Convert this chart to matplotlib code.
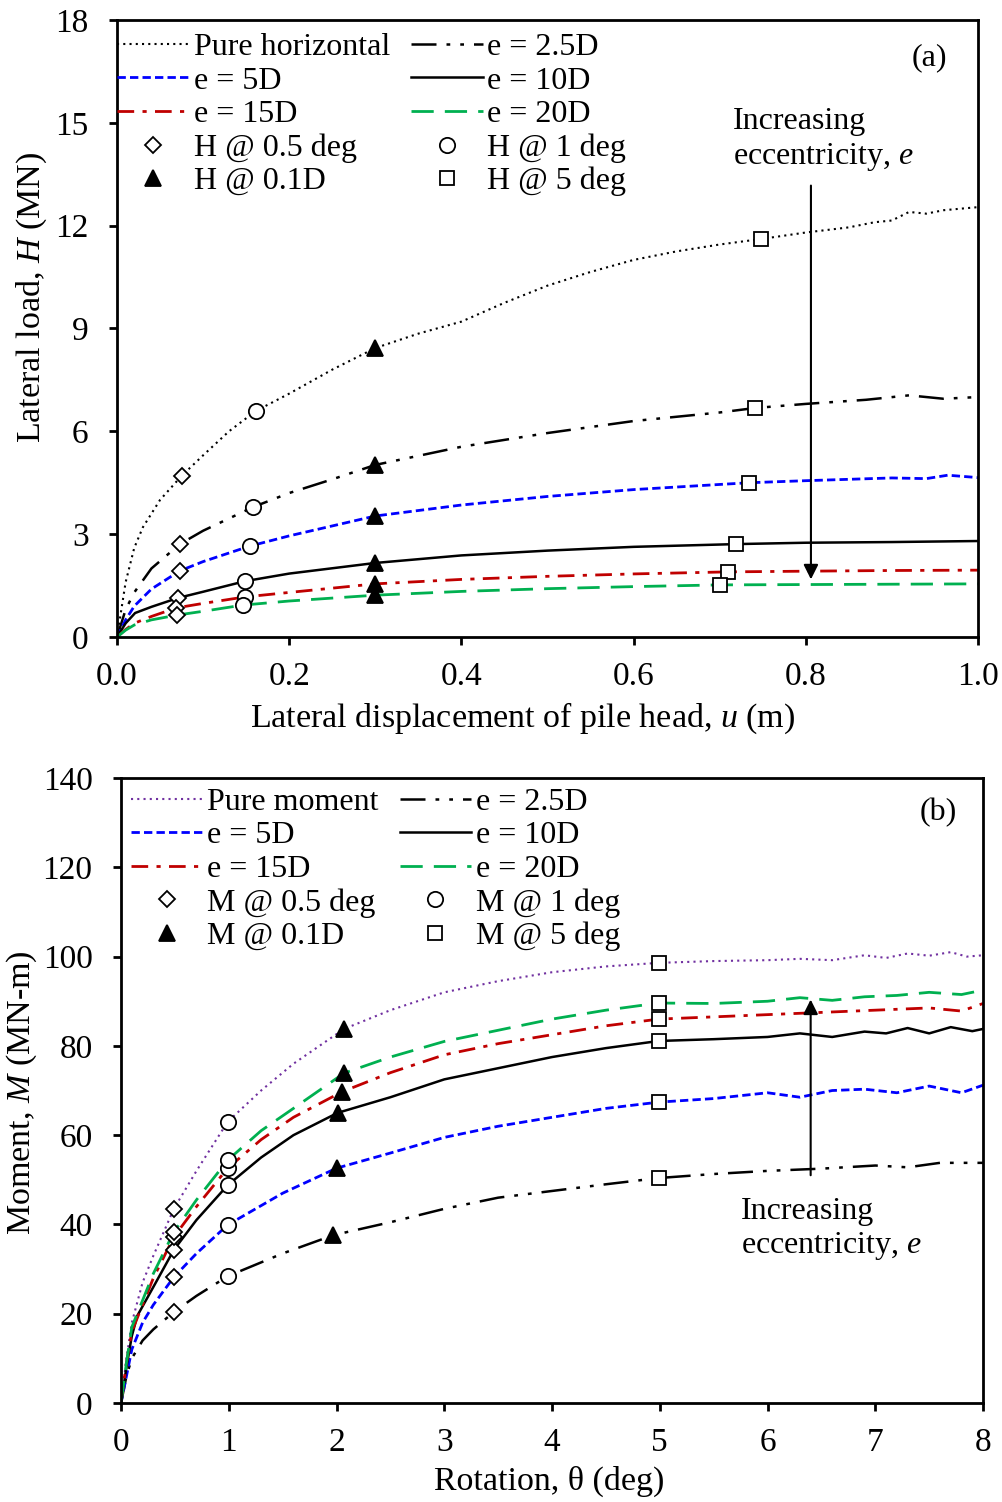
import matplotlib
matplotlib.use("Agg")
import matplotlib.pyplot as plt
from matplotlib.lines import Line2D

plt.rcParams['font.family'] = ['Liberation Serif', 'DejaVu Serif']
plt.rcParams['mathtext.fontset'] = 'custom'
plt.rcParams['mathtext.rm'] = 'Liberation Serif'
plt.rcParams['mathtext.it'] = 'Liberation Serif:italic'
plt.rcParams['font.size'] = 23

# ---------------- (a) lateral load vs displacement ----------------
u_pure = [0, 0.005, 0.01, 0.02, 0.03, 0.05, 0.075, 0.1, 0.13, 0.161, 0.2, 0.25, 0.3, 0.35, 0.4,
          0.45, 0.5, 0.55, 0.6, 0.65, 0.7, 0.748, 0.8, 0.85, 0.88, 0.9, 0.92, 0.94, 0.96, 1.0]
H_pure = [0, 0.8, 1.6, 2.6, 3.2, 4.0, 4.7, 5.3, 6.0, 6.59, 7.1, 7.8, 8.43, 8.85, 9.2,
          9.75, 10.25, 10.65, 11.0, 11.25, 11.45, 11.61, 11.8, 11.95, 12.1, 12.15, 12.4, 12.35, 12.45, 12.54]
u_25 = [0, 0.01, 0.02, 0.04, 0.073, 0.1, 0.158, 0.2, 0.25, 0.3, 0.4, 0.5, 0.6, 0.7, 0.741,
        0.8, 0.87, 0.92, 0.96, 1.0]
H_25 = [0, 0.8, 1.3, 2.0, 2.71, 3.1, 3.79, 4.2, 4.6, 5.02, 5.55, 5.95, 6.3, 6.55, 6.68,
        6.8, 6.92, 7.05, 6.95, 7.0]
u_5 = [0, 0.01, 0.02, 0.04, 0.073, 0.1, 0.154, 0.2, 0.3, 0.4, 0.5, 0.6, 0.7, 0.734, 0.8,
       0.85, 0.9, 0.94, 0.965, 1.0]
H_5 = [0, 0.5, 0.9, 1.4, 1.93, 2.2, 2.65, 2.95, 3.53, 3.85, 4.1, 4.3, 4.45, 4.50, 4.56,
       4.6, 4.64, 4.62, 4.72, 4.65]
u_10 = [0, 0.01, 0.021, 0.04, 0.071, 0.1, 0.149, 0.2, 0.3, 0.4, 0.5, 0.6, 0.719, 0.8, 0.9, 1.0]
H_10 = [0, 0.4, 0.7, 0.88, 1.14, 1.32, 1.63, 1.85, 2.16, 2.38, 2.52, 2.63, 2.71, 2.75, 2.77, 2.80]
u_15 = [0, 0.01, 0.02, 0.04, 0.069, 0.1, 0.149, 0.2, 0.3, 0.4, 0.5, 0.6, 0.71, 0.8, 0.9, 1.0]
H_15 = [0, 0.22, 0.4, 0.6, 0.85, 0.98, 1.17, 1.3, 1.55, 1.68, 1.77, 1.84, 1.90, 1.92, 1.94, 1.95]
u_20 = [0, 0.01, 0.02, 0.04, 0.07, 0.1, 0.146, 0.2, 0.3, 0.4, 0.5, 0.6, 0.7, 0.8, 0.9, 1.0]
H_20 = [0, 0.2, 0.35, 0.5, 0.64, 0.75, 0.93, 1.05, 1.22, 1.33, 1.41, 1.47, 1.52, 1.53, 1.54, 1.55]

# marker points (pure, 2.5D, 5D, 10D, 15D, 20D)
a_dia_u = [0.075, 0.073, 0.073, 0.071, 0.069, 0.07]
a_dia_H = [4.7, 2.71, 1.93, 1.14, 0.85, 0.64]
a_cir_u = [0.161, 0.158, 0.154, 0.149, 0.149, 0.146]
a_cir_H = [6.59, 3.79, 2.65, 1.63, 1.17, 0.93]
a_tri_u = [0.3, 0.3, 0.3, 0.3, 0.3, 0.3]
a_tri_H = [8.43, 5.02, 3.53, 2.16, 1.55, 1.22]
a_sq_u = [0.748, 0.741, 0.734, 0.719, 0.71, 0.70]
a_sq_H = [11.61, 6.68, 4.50, 2.71, 1.90, 1.52]

# ---------------- (b) moment vs rotation ----------------
t_pure = [0, 0.05, 0.1, 0.2, 0.3, 0.49, 0.7, 0.99, 1.3, 1.6, 2.07, 2.5, 3, 3.5, 4, 4.5, 4.99,
          5.5, 6, 6.3, 6.6, 6.9, 7.1, 7.3, 7.5, 7.7, 7.85, 8]
M_pure = [0, 10, 18, 27, 33, 43.5, 52, 63.0, 70, 76, 83.8, 88, 92, 94.5, 96.5, 97.8, 98.6,
          99, 99.2, 99.5, 99.2, 100.3, 99.7, 100.7, 100.2, 101, 100, 100.3]
t_25 = [0, 0.05, 0.1, 0.2, 0.3, 0.49, 0.7, 0.99, 1.5, 1.97, 2.5, 3, 3.5, 4, 4.5, 4.99, 5.5,
        6, 6.5, 7, 7.3, 7.6, 8]
M_25 = [0, 6, 10, 14, 16.5, 20.4, 24, 28.4, 33.5, 37.6, 40.5, 43.5, 46, 47.5, 49, 50.4, 51.3,
        52, 52.5, 53.2, 52.8, 53.8, 53.8]
t_5 = [0, 0.05, 0.1, 0.2, 0.3, 0.49, 0.7, 0.99, 1.5, 2.0, 2.5, 3, 3.5, 4, 4.5, 4.99, 5.5,
       6, 6.3, 6.6, 6.9, 7.2, 7.5, 7.8, 8]
M_5 = [0, 6, 12, 18, 22, 28.2, 33.5, 39.9, 47, 52.6, 56, 59.5, 62, 64, 66, 67.4, 68.2,
       69.5, 68.5, 70, 70.3, 69.5, 71, 69.5, 71.2]
t_10 = [0, 0.05, 0.1, 0.15, 0.3, 0.49, 0.7, 0.99, 1.3, 1.6, 2.01, 2.5, 3, 3.5, 4, 4.5, 4.99,
        5.5, 6, 6.3, 6.6, 6.9, 7.1, 7.3, 7.5, 7.7, 7.9, 8]
M_10 = [0, 8, 15, 19.5, 26, 34.3, 41, 48.8, 55, 60, 65.0, 68.5, 72.5, 75, 77.5, 79.5, 81.1,
        81.5, 82, 82.8, 82, 83.2, 82.8, 84, 82.8, 84.2, 83.3, 83.8]
t_15 = [0, 0.05, 0.1, 0.2, 0.3, 0.49, 0.7, 0.99, 1.3, 1.6, 2.05, 2.5, 3, 3.5, 4, 4.5, 4.99,
        5.5, 6, 6.5, 7, 7.5, 7.8, 8]
M_15 = [0, 9, 16, 22, 28, 37.2, 44, 52.6, 59, 64, 69.7, 74, 78, 80.5, 82.5, 84.5, 86.0,
        86.5, 87, 87.5, 88, 88.5, 87.8, 89.5]
t_20 = [0, 0.05, 0.1, 0.2, 0.3, 0.49, 0.7, 0.99, 1.3, 1.6, 2.07, 2.5, 3, 3.5, 4, 4.5, 4.99,
        5.5, 6, 6.3, 6.6, 6.9, 7.2, 7.5, 7.8, 8]
M_20 = [0, 9, 17, 23, 29, 38.3, 45.5, 54.4, 61, 66, 73.9, 77.5, 81, 83.5, 86, 88, 89.6,
        89.5, 90, 90.8, 90.2, 91, 91.3, 92, 91.5, 92.5]

b_dia_t = [0.49, 0.49, 0.49, 0.49, 0.49, 0.49]
b_dia_M = [43.5, 20.4, 28.2, 34.3, 37.2, 38.3]
b_cir_t = [0.99, 0.99, 0.99, 0.99, 0.99, 0.99]
b_cir_M = [63.0, 28.4, 39.9, 48.8, 52.6, 54.4]
b_tri_t = [2.07, 1.97, 2.0, 2.01, 2.05, 2.07]
b_tri_M = [83.8, 37.6, 52.6, 65.0, 69.7, 73.9]
b_sq_t = [4.99, 4.99, 4.99, 4.99, 4.99, 4.99]
b_sq_M = [98.6, 50.4, 67.4, 81.1, 86.0, 89.6]

# line styles
st_hor = dict(color='black', lw=1.5, ls=(0, (1, 2)))
st_mom = dict(color='#7030A0', lw=1.5, ls=(0, (1, 2)))
st_25 = dict(color='black', lw=1.8, ls=(0, (10, 4, 1.5, 4, 1.5, 4)))
st_5 = dict(color='#0000FF', lw=2, ls=(0, (3, 1.5)))
st_10 = dict(color='black', lw=1.8, ls='-')
st_15 = dict(color='#C00000', lw=2, ls=(0, (6, 3, 1.5, 3)))
st_20 = dict(color='#00B050', lw=2, ls=(0, (8, 4)))
mk = dict(ls='none', mec='black', mew=1.3, zorder=5)
dia = dict(marker='D', ms=8, mfc='white', **mk)
cir = dict(marker='o', ms=11, mfc='white', **mk)
tri = dict(marker='^', ms=11, mfc='black', **mk)
sq = dict(marker='s', ms=10, mfc='white', **mk)

fig = plt.figure(figsize=(10.02, 15.02), dpi=100)


def style_axes(ax):
    for s in ax.spines.values():
        s.set_linewidth(2)
    ax.tick_params(axis='x', direction='out', length=5.5, width=2, labelsize=24, pad=12)
    ax.tick_params(axis='y', direction='out', length=5.5, width=2, labelsize=24, pad=15)
    ax.xaxis.label.set_va('center')
    ax.yaxis.label.set_va('center')


def make_legend(ax, st_first, letter, first, x0, y0):
    h = [Line2D([], [], **st_first), Line2D([], [], **st_5), Line2D([], [], **st_15),
         Line2D([], [], **dia), Line2D([], [], **tri),
         Line2D([], [], **st_25), Line2D([], [], **st_10), Line2D([], [], **st_20),
         Line2D([], [], **cir), Line2D([], [], **sq)]
    lab = [first, 'e = 5D', 'e = 15D', letter + ' @ 0.5 deg', letter + ' @ 0.1D',
           'e = 2.5D', 'e = 10D', 'e = 20D', letter + ' @ 1 deg', letter + ' @ 5 deg']
    ax.legend(h, lab, ncol=2, frameon=False, loc='upper left', bbox_to_anchor=(x0, y0),
              borderaxespad=0.3, borderpad=0.0, handlelength=2.25, handletextpad=0.15,
              columnspacing=0.65, labelspacing=0.13, numpoints=1, fontsize=23)


# ---- top axes
ax1 = fig.add_axes([0.1168, 0.5759, 0.8592, 0.4108])
ax1.plot(u_pure, H_pure, **st_hor)
ax1.plot(u_25, H_25, **st_25)
ax1.plot(u_5, H_5, **st_5)
ax1.plot(u_10, H_10, **st_10)
ax1.plot(u_15, H_15, **st_15)
ax1.plot(u_20, H_20, **st_20)
ax1.plot(a_dia_u, a_dia_H, **dia)
ax1.plot(a_cir_u, a_cir_H, **cir)
ax1.plot(a_tri_u, a_tri_H, **tri)
ax1.plot(a_sq_u, a_sq_H, **sq)
ax1.set_xlim(0, 1.0)
ax1.set_ylim(0, 18)
ax1.set_xticks([0, 0.2, 0.4, 0.6, 0.8, 1.0])
ax1.set_xticklabels(['0.0', '0.2', '0.4', '0.6', '0.8', '1.0'])
ax1.set_yticks(range(0, 19, 3))
ax1.set_xlabel('Lateral displacement of pile head, $\\mathit{u}$ (m)', fontsize=24.5)
ax1.set_ylabel('Lateral load, $\\mathit{H}$ (MN)', fontsize=24.5)
style_axes(ax1)
ax1.xaxis.set_label_coords(0.4715, -0.131)
ax1.yaxis.set_label_coords(-0.0987, 0.551)
make_legend(ax1, st_hor, 'H', 'Pure horizontal', -0.011, 0.995)
ax1.annotate('', xy=(0.806, 1.6), xytext=(0.806, 13.25),
             arrowprops=dict(arrowstyle='-|>', color='black', lw=1.5, mutation_scale=22))
ax1.text(0.715, 15.45, 'Increasing\neccentricity, $\\mathit{e}$', fontsize=23,
         va='top', ha='left', linespacing=1.2)
ax1.text(0.944, 16.9, '(a)', fontsize=23, ha='center', va='center')

# ---- bottom axes
ax2 = fig.add_axes([0.1208, 0.0659, 0.8603, 0.4161])
ax2.plot(t_pure, M_pure, **st_mom)
ax2.plot(t_25, M_25, **st_25)
ax2.plot(t_5, M_5, **st_5)
ax2.plot(t_10, M_10, **st_10)
ax2.plot(t_15, M_15, **st_15)
ax2.plot(t_20, M_20, **st_20)
ax2.plot(b_dia_t, b_dia_M, **dia)
ax2.plot(b_cir_t, b_cir_M, **cir)
ax2.plot(b_tri_t, b_tri_M, **tri)
ax2.plot(b_sq_t, b_sq_M, **sq)
ax2.set_xlim(0, 8)
ax2.set_ylim(0, 140)
ax2.set_xticks(range(0, 9))
ax2.set_yticks(range(0, 141, 20))
ax2.set_xlabel('Rotation, θ (deg)', fontsize=24.5)
ax2.set_ylabel('Moment, $\\mathit{M}$ (MN-m)', fontsize=24.5)
style_axes(ax2)
ax2.xaxis.set_label_coords(0.4965, -0.126)
ax2.yaxis.set_label_coords(-0.115, 0.497)
make_legend(ax2, st_mom, 'M', 'Pure moment', 0.0, 1.0)
ax2.annotate('', xy=(6.4, 91), xytext=(6.4, 50.4),
             arrowprops=dict(arrowstyle='-|>', color='black', lw=1.5, mutation_scale=22))
ax2.text(5.75, 46.2, 'Increasing\neccentricity, $\\mathit{e}$', fontsize=23,
         va='top', ha='left', linespacing=1.2)
ax2.text(7.58, 132.2, '(b)', fontsize=23, ha='center', va='center')

fig.savefig('out.png', dpi=100)
